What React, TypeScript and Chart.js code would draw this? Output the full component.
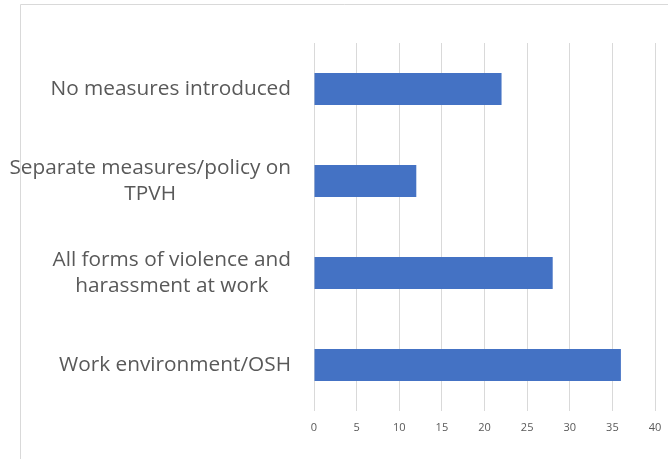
import React, { useEffect, useRef } from "react";
import { Chart, registerables } from "chart.js";

Chart.register(...registerables);

const categories: string[][] = [
  ["No measures introduced"],
  ["Separate measures/policy on", "TPVH"],
  ["All forms of violence and", "harassment at work"],
  ["Work environment/OSH"],
];
const values: number[] = [22, 12, 28, 36];
const xTicks: number[] = [0, 5, 10, 15, 20, 25, 30, 35, 40];

const TEXT = "#595959";
const GRID = "#d9d9d9";
const BAR = "#4472C4";
const FONT = "'Open Sans', sans-serif";

const frameAndLabels = {
  id: "frameAndLabels",
  beforeDraw(chart: any) {
    const ctx = chart.ctx;
    ctx.save();
    ctx.strokeStyle = GRID;
    ctx.lineWidth = 1;
    ctx.beginPath();
    ctx.moveTo(20.5, chart.height);
    ctx.lineTo(20.5, 4.5);
    ctx.lineTo(chart.width, 4.5);
    ctx.stroke();
    ctx.restore();
  },
  afterDraw(chart: any) {
    const ctx = chart.ctx;
    const yScale = chart.scales.y;
    const right = 291;
    const lineH = 26;
    ctx.save();
    ctx.font = `20.8px ${FONT}`;
    ctx.fillStyle = TEXT;
    ctx.textBaseline = "middle";
    ctx.textAlign = "center";
    categories.forEach((lines, i) => {
      const yc = yScale.getPixelForTick(i);
      const w = Math.max(...lines.map((l) => ctx.measureText(l).width));
      const cx = right - w / 2;
      const y0 = yc - ((lines.length - 1) * lineH) / 2;
      lines.forEach((l, j) => ctx.fillText(l, cx, y0 + j * lineH));
    });
    ctx.restore();
  },
};

export default function App() {
  const ref = useRef<HTMLCanvasElement>(null);
  useEffect(() => {
    if (!ref.current) return;
    const chart = new Chart(ref.current, {
      type: "bar",
      data: {
        labels: categories.map((c) => c.join(" ")),
        datasets: [
          {
            data: values,
            backgroundColor: BAR,
            borderWidth: 0,
            barPercentage: 0.35,
            categoryPercentage: 1,
          },
        ],
      },
      options: {
        indexAxis: "y",
        animation: false,
        responsive: false,
        layout: { padding: { top: 43, right: 13, bottom: 0, left: 0 } },
        plugins: { legend: { display: false }, tooltip: { enabled: false } },
        scales: {
          x: {
            min: 0,
            max: 40,
            afterBuildTicks: (scale: any) => {
              scale.ticks = xTicks.map((v) => ({ value: v }));
            },
            afterFit: (scale: any) => {
              scale.height = 48;
              scale.paddingLeft = 0;
              scale.paddingRight = 0;
            },
            grid: { color: GRID, drawTicks: false },
            border: { display: false },
            ticks: {
              color: TEXT,
              font: { family: FONT, size: 11 },
              padding: 10,
            },
          },
          y: {
            afterFit: (scale: any) => {
              scale.width = 314;
            },
            grid: { display: false },
            border: { display: false },
            ticks: { display: false },
          },
        },
      },
      plugins: [frameAndLabels],
    });
    return () => chart.destroy();
  }, []);
  return (
    <div style={{ position: "fixed", left: 0, top: 0, width: 668, height: 459, background: "#fff" }}>
      <canvas ref={ref} width={668} height={459} />
    </div>
  );
}
